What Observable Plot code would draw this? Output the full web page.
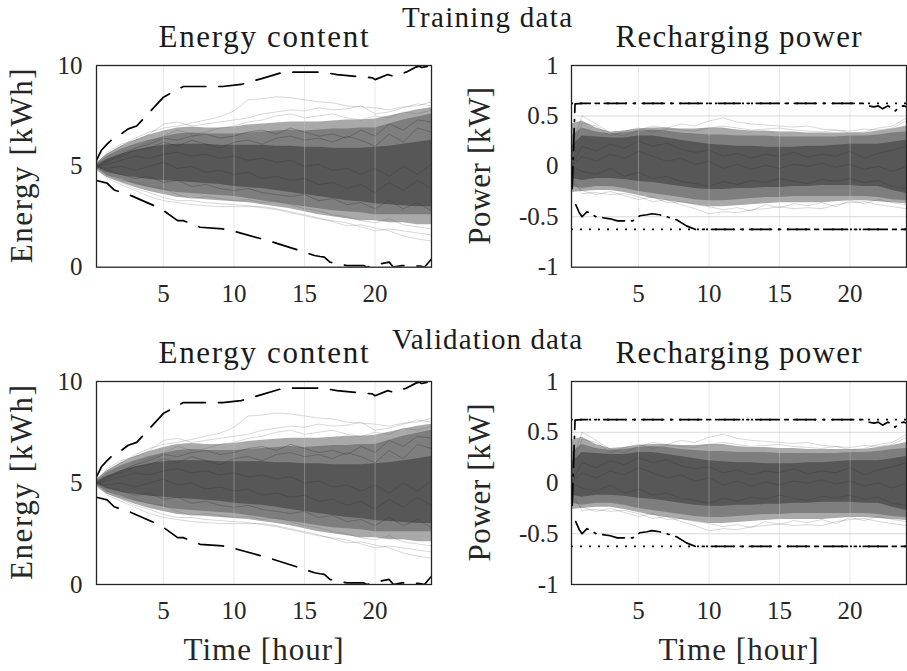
<!DOCTYPE html>
<html><head><meta charset="utf-8">
<script src="https://cdn.jsdelivr.net/npm/d3@7"></script>
<script src="https://cdn.jsdelivr.net/npm/@observablehq/plot@0.6"></script>
<style>
html,body{margin:0;padding:0;background:#fff;}
#root{position:relative;width:907px;height:671px;overflow:hidden;}
</style></head>
<body><div id="root"></div>
<script>
// ---------- data ----------
const hours = [0.25,1,2,3,4,5,6,7,8,9,10,11,12,13,14,15,16,17,18,19,20,21,22,23,24];
const xTicks = [5,10,15,20];
const energyTicks = [0,5,10];
const powerTicks = [-1,-0.5,0,0.5,1];
const powerGrid = [-0.5,0.5];
const powerLimit = [-0.625,0.625];

// Energy content: density bands of the gray trajectories (kWh)
const eCoreHi = [5.05,5.35,5.6,5.8,5.95,6.05,6.1,6.1,6.1,6.05,6.05,6.05,6.05,6.0,6.0,5.95,5.95,5.9,5.9,5.9,5.95,6.0,6.1,6.2,6.3];
const eCoreLo = [4.95,4.7,4.55,4.45,4.35,4.3,4.25,4.2,4.15,4.1,4.0,3.95,3.9,3.8,3.7,3.6,3.5,3.4,3.3,3.25,3.15,3.1,3.05,3.0,3.0];
const eMidHi  = [5.1,5.5,5.85,6.1,6.3,6.45,6.6,6.65,6.6,6.6,6.6,6.65,6.7,6.75,6.8,6.75,6.8,6.85,6.85,6.9,6.9,7.1,7.3,7.45,7.6];
const eMidLo  = [4.9,4.55,4.35,4.1,3.95,3.8,3.7,3.65,3.6,3.55,3.5,3.4,3.3,3.2,3.1,3.0,2.9,2.8,2.75,2.7,2.6,2.6,2.6,2.6,2.6];
const eOutHi  = [5.15,5.6,6.0,6.3,6.55,6.75,6.9,6.95,6.9,6.9,6.95,7.05,7.1,7.15,7.2,7.2,7.2,7.25,7.3,7.3,7.35,7.5,7.65,7.8,7.9];
const eOutLo  = [4.85,4.45,4.2,3.95,3.75,3.6,3.45,3.4,3.35,3.3,3.25,3.2,3.1,3.0,2.9,2.75,2.6,2.5,2.4,2.3,2.3,2.2,2.2,2.1,2.1];
// Energy: individual outlying (light) trajectories
const eLine1 = [5.2,5.6,6.0,6.4,6.7,6.9,7.0,7.15,7.3,7.45,7.75,8.3,8.35,8.45,8.4,8.3,8.2,8.15,8.0,7.95,7.9,7.8,7.95,8.0,8.2];
const eLine2 = [5.1,5.7,6.1,6.3,6.6,7.1,7.2,7.0,7.1,7.2,7.3,7.4,7.6,7.7,7.8,7.75,7.9,7.8,7.85,8.0,7.6,7.7,7.9,8.1,8.0];
const eLine3 = [4.9,4.4,4.1,3.8,3.5,3.3,3.2,3.1,3.05,3.0,3.0,3.0,3.0,2.9,2.75,2.6,2.45,2.25,2.05,2.1,1.95,1.8,1.55,1.4,1.3];
const eLine4 = [4.8,4.5,4.2,3.9,3.7,3.45,3.3,3.3,3.2,3.15,3.1,3.05,2.95,2.85,2.7,2.55,2.4,2.3,2.2,2.0,1.8,1.9,1.8,1.7,1.6];
const eLine5 = [5.0,5.3,5.6,5.9,6.2,6.5,6.8,6.6,6.7,6.9,7.0,7.2,7.3,7.5,7.6,7.4,7.5,7.6,7.4,7.3,7.5,7.4,7.7,7.6,7.8];
const eLine6 = [5.0,4.6,4.3,4.2,4.0,3.9,3.6,3.4,3.5,3.4,3.3,3.35,3.2,3.3,3.1,2.9,2.8,2.6,2.5,2.3,2.2,2.4,2.1,2.0,1.9];
// Energy: a few trajectories inside the dense band
const eTex1 = [5.0,5.3,5.5,5.8,5.9,6.2,6.0,6.3,6.1,5.9,6.2,6.3,6.1,6.4,6.5,6.3,6.4,6.2,6.5,6.3,6.0,6.6,6.2,6.9,6.7];
const eTex2 = [5.0,4.8,4.6,4.4,4.5,4.2,4.3,4.0,4.1,3.9,3.8,3.9,3.7,3.6,3.5,3.6,3.3,3.4,3.1,3.2,2.9,3.3,2.9,3.2,2.8];
const eTex3 = [5.0,5.1,5.3,5.5,5.4,5.6,5.7,5.5,5.6,5.4,5.5,5.3,5.4,5.2,5.3,5.0,5.1,4.8,4.9,4.6,4.9,4.5,5.0,4.6,5.1];
const eTex4 = [5.0,4.9,5.0,4.8,5.0,5.2,4.9,5.0,4.7,4.8,4.6,4.7,4.4,4.5,4.3,4.4,4.1,4.2,3.9,4.1,3.7,4.2,3.8,4.3,3.9];
const eTex5 = [5.0,5.2,5.6,5.9,6.1,6.4,6.3,6.5,6.6,6.4,6.5,6.7,6.8,6.6,6.9,6.7,6.5,6.6,6.4,6.8,6.5,7.1,6.8,7.3,7.2];
// Energy: max / min envelopes (dashed)
const eMaxH = [0.25,0.6,1.0,1.3,2.0,2.5,3.1,5.0,6.4,8.2,9.2,10.5,11.9,13.5,14.5,16.3,17.3,19.8,20.0,20.9,21.3,22.2,22.9,23.1,23.3,24];
const eMaxV = [5.3,5.8,6.1,6.3,6.6,6.86,7.0,8.43,8.96,8.96,8.96,9.06,9.34,9.67,9.67,9.67,9.55,9.39,9.3,9.55,9.47,9.67,9.92,9.97,9.9,10];
const eMinH = [0.25,1.0,1.5,2.7,4.3,5.0,6.0,6.4,7.6,9.2,10,12.4,14.5,15.7,16.1,16.4,16.8,18,19.2,19.4,20.4,21,21.3,21.9,23.2,23.5,24];
const eMinV = [4.3,4.17,3.83,3.55,3.06,2.81,2.31,2.31,1.98,1.90,1.78,1.32,0.86,0.58,0.53,0.5,0.25,0.08,0.08,0.0,0.17,0.25,0.0,0.08,0.05,0.0,0.41];

// Recharging power: density bands (kW)
const pCoreHi = [0.2,0.3,0.29,0.28,0.28,0.3,0.3,0.28,0.26,0.24,0.22,0.21,0.2,0.2,0.19,0.19,0.19,0.2,0.2,0.21,0.22,0.22,0.22,0.24,0.26];
const pCoreLo = [-0.12,-0.14,-0.12,-0.12,-0.13,-0.15,-0.16,-0.18,-0.2,-0.22,-0.23,-0.23,-0.22,-0.22,-0.21,-0.21,-0.2,-0.2,-0.19,-0.19,-0.19,-0.2,-0.2,-0.24,-0.27];
const pMidHi  = [0.3,0.38,0.34,0.32,0.33,0.35,0.36,0.35,0.33,0.32,0.31,0.31,0.3,0.3,0.3,0.29,0.29,0.29,0.29,0.29,0.3,0.3,0.31,0.33,0.34];
const pMidLo  = [-0.2,-0.22,-0.2,-0.2,-0.22,-0.25,-0.27,-0.29,-0.31,-0.33,-0.34,-0.34,-0.33,-0.32,-0.31,-0.31,-0.3,-0.3,-0.3,-0.3,-0.3,-0.3,-0.31,-0.33,-0.34];
const pOutHi  = [0.42,0.45,0.38,0.34,0.35,0.37,0.38,0.38,0.37,0.37,0.38,0.38,0.36,0.35,0.35,0.34,0.34,0.33,0.33,0.33,0.33,0.33,0.35,0.37,0.4];
const pOutLo  = [-0.26,-0.25,-0.24,-0.24,-0.26,-0.29,-0.32,-0.34,-0.36,-0.38,-0.4,-0.4,-0.39,-0.38,-0.37,-0.36,-0.36,-0.36,-0.36,-0.35,-0.34,-0.34,-0.35,-0.36,-0.37];
const pLine1 = [0.2,0.5,0.42,0.33,0.3,0.36,0.4,0.38,0.42,0.4,0.45,0.48,0.44,0.42,0.41,0.4,0.39,0.4,0.37,0.36,0.35,0.37,0.36,0.38,0.45];
const pLine2 = [0.15,0.43,0.4,0.3,0.35,0.38,0.34,0.37,0.36,0.35,0.38,0.4,0.38,0.36,0.37,0.38,0.36,0.35,0.34,0.36,0.33,0.34,0.38,0.4,0.48];
const pLine3 = [-0.1,-0.27,-0.26,-0.28,-0.27,-0.3,-0.35,-0.33,-0.38,-0.42,-0.47,-0.45,-0.46,-0.43,-0.42,-0.4,-0.42,-0.41,-0.42,-0.38,-0.36,-0.35,-0.38,-0.4,-0.42];
const pLine4 = [-0.15,-0.24,-0.28,-0.25,-0.29,-0.33,-0.3,-0.36,-0.35,-0.38,-0.4,-0.43,-0.41,-0.44,-0.38,-0.41,-0.37,-0.39,-0.36,-0.4,-0.34,-0.37,-0.33,-0.36,-0.38];
const pTex1 = [0,0.2,0.15,0.22,0.18,0.25,0.2,0.23,0.17,0.14,0.16,0.1,0.13,0.08,0.12,0.1,0.14,0.09,0.12,0.1,0.15,0.08,0.13,0.16,0.2];
const pTex2 = [0,-0.05,-0.08,-0.02,-0.1,-0.06,-0.12,-0.1,-0.15,-0.17,-0.2,-0.15,-0.18,-0.14,-0.16,-0.12,-0.15,-0.17,-0.13,-0.15,-0.12,-0.16,-0.14,-0.2,-0.22];
const pTex3 = [0,0.1,0.05,0.12,0.08,0.15,0.1,0.05,0.08,0.02,0.05,-0.02,0.02,-0.03,0.01,-0.02,0.02,0.0,0.03,-0.01,0.02,-0.03,0.0,-0.05,0.0];
// Power: max / min envelopes (dash-dot)
const pMaxH = [0.3,0.5,1,5,10,15,20,20.9,21.3,21.7,22.0,22.3,22.7,23.2,23.5,23.8,24];
const pMaxV = [-0.22,0.62,0.625,0.625,0.625,0.625,0.625,0.625,0.6,0.59,0.6,0.57,0.6,0.55,0.59,0.6,0.59];
const pMinH = [0.55,0.8,1.0,1.35,2.0,3.0,3.5,4.6,5.1,5.6,5.95,6.5,7.0,7.7,8.4,9.0,10,24];
const pMinV = [-0.38,-0.46,-0.5,-0.45,-0.5,-0.52,-0.54,-0.54,-0.49,-0.48,-0.47,-0.48,-0.5,-0.53,-0.59,-0.624,-0.625,-0.625];

// ---------- font choice (serif if one is installed) ----------
const ctx = document.createElement("canvas").getContext("2d");
function hasFont(name) {
  const s = "Energy content 0123456789 mmmWWWiii";
  return ["monospace", "sans-serif"].some(base => {
    ctx.font = `72px ${base}`; const w0 = ctx.measureText(s).width;
    ctx.font = `72px "${name}", ${base}`; const w1 = ctx.measureText(s).width;
    return Math.abs(w0 - w1) > 0.5;
  });
}
const candidates = ["Liberation Serif", "DejaVu Serif", "Noto Serif", "Tinos", "Times New Roman", "FreeSerif", "Nimbus Roman", "Noto Serif CJK SC"];
const FONT = candidates.find(hasFont) || "Liberation Sans";
const FAM = `"${FONT}", serif`;
function widthAt(s, size) { ctx.font = `${size}px ${FAM}`; return ctx.measureText(s).width; }
// tick labels: "10" is about 25 px wide in the picture
const tickSize = Math.max(20, Math.min(28, 27 * 25 / widthAt("10", 27)));

// ---------- helpers ----------
const bandRows = (lo, hi) => hours.map((h, i) => ({h, lo: lo[i], hi: hi[i]}));
const lineRows = (arrs) => arrs.flatMap((a, k) => a.map((v, i) => ({h: hours[i], v, k})));
const pairRows = (H, V) => H.map((h, i) => ({h, v: V[i]}));

const cfg = {
  energy: {
    domain: [0, 10], ticks: energyTicks, yPad: 14,
    bands: [[eOutLo, eOutHi, "#a9a9a9"], [eMidLo, eMidHi, "#7e7e7e"], [eCoreLo, eCoreHi, "#575757"]],
    light: [eLine1, eLine2, eLine3, eLine4, eLine5, eLine6],
    tex: [eTex1, eTex2, eTex3, eTex4, eTex5],
    envMax: [eMaxH, eMaxV], envMin: [eMinH, eMinV], dash: "25,13", limit: false, ygrid: []
  },
  power: {
    domain: [-1, 1], ticks: powerTicks, yPad: 13,
    bands: [[pOutLo, pOutHi, "#a9a9a9"], [pMidLo, pMidHi, "#7e7e7e"], [pCoreLo, pCoreHi, "#575757"]],
    light: [pLine1, pLine2, pLine3, pLine4],
    tex: [pTex1, pTex2, pTex3],
    envMax: [pMaxH, pMaxV], envMin: [pMinH, pMinV], dash: "22,7,2,7", limit: true, ygrid: powerGrid
  }
};

function panel(kind, box) {
  const c = cfg[kind];
  const marks = [];
  if (c.ygrid.length) marks.push(Plot.gridY(c.ygrid, {stroke: "#c8c8c8", strokeOpacity: 0.7, strokeWidth: 1}));
  for (const [lo, hi, fill] of c.bands)
    marks.push(Plot.areaY(bandRows(lo, hi), {x: "h", y1: "lo", y2: "hi", fill, clip: true}));
  marks.push(Plot.line(lineRows(c.light), {x: "h", y: "v", z: "k", stroke: "#4d4d4d", strokeOpacity: 0.22, strokeWidth: 1, clip: true}));
  marks.push(Plot.line(lineRows(c.tex), {x: "h", y: "v", z: "k", stroke: "#3a3a3a", strokeOpacity: 0.35, strokeWidth: 1, clip: true}));
  marks.push(Plot.gridX(xTicks, {stroke: "#c8c8c8", strokeOpacity: 0.4, strokeWidth: 1}));
  if (c.limit) marks.push(Plot.ruleY(powerLimit, {x1: hours[0], x2: hours[hours.length - 1], stroke: "#000", strokeWidth: 1.7, strokeDasharray: "2,7"}));
  marks.push(Plot.line(pairRows(...c.envMax), {x: "h", y: "v", stroke: "#000", strokeWidth: 1.7, strokeDasharray: c.dash, clip: true}));
  marks.push(Plot.line(pairRows(...c.envMin), {x: "h", y: "v", stroke: "#000", strokeWidth: 1.7, strokeDasharray: c.dash, clip: true}));
  marks.push(Plot.axisX(xTicks, {tickSize: 0, tickPadding: 17, label: null, tickFormat: d => String(d), fill: "#262626"}));
  marks.push(Plot.axisY(c.ticks, {tickSize: 0, tickPadding: c.yPad, label: null, tickFormat: d => String(d), fill: "#262626"}));
  marks.push(Plot.frame({stroke: "#262626", strokeWidth: 1.3}));
  const svg = Plot.plot({
    width: box.w, height: box.h,
    marginLeft: box.ml, marginRight: box.mr, marginTop: box.mt, marginBottom: box.mb,
    style: {fontFamily: FAM, fontSize: tickSize + "px", background: "transparent", overflow: "visible"},
    x: {domain: [hours[0], hours[hours.length - 1]]},
    y: {domain: c.domain},
    marks
  });
  svg.style.position = "absolute";
  svg.style.left = box.left + "px";
  svg.style.top = box.top + "px";
  return svg;
}

const root = document.getElementById("root");
root.appendChild(panel("energy", {left: 0,   top: 0,   w: 440, h: 310, ml: 96,  mr: 9, mt: 65, mb: 43.3}));
root.appendChild(panel("power",  {left: 460, top: 0,   w: 447, h: 310, ml: 111, mr: 1, mt: 65, mb: 43.3}));
root.appendChild(panel("energy", {left: 0,   top: 320, w: 440, h: 310, ml: 96,  mr: 9, mt: 61, mb: 46}));
root.appendChild(panel("power",  {left: 460, top: 320, w: 447, h: 310, ml: 111, mr: 1, mt: 61, mb: 46}));

// ---------- titles and axis labels ----------
const ns = "http://www.w3.org/2000/svg";
const ov = document.createElementNS(ns, "svg");
ov.setAttribute("width", 907); ov.setAttribute("height", 671);
ov.style.position = "absolute"; ov.style.left = "0px"; ov.style.top = "0px";
ov.style.fontFamily = FAM;
function txt(s, x, y, size, target, rot, fill) {
  const fs = Math.min(size, size * target / widthAt(s, size));
  const t = document.createElementNS(ns, "text");
  t.textContent = s;
  t.setAttribute("text-anchor", "middle");
  t.setAttribute("font-size", fs);
  t.setAttribute("fill", fill || "#1a1a1a");
  t.setAttribute("textLength", target);
  t.setAttribute("lengthAdjust", "spacing");
  if (rot) t.setAttribute("transform", `translate(${x},${y}) rotate(-90)`);
  else { t.setAttribute("x", x); t.setAttribute("y", y); }
  ov.appendChild(t);
}
const rows = [
  {title: "Training data", tW: 170, tY: 26.5, pY: 47, mid: 165.8},
  {title: "Validation data", tW: 190, tY: 349, pY: 362.7, mid: 482.5}
];
for (const r of rows) {
  txt(r.title, 487, r.tY, 29, r.tW);
  txt("Energy content", 263.5, r.pY, 31, 210);
  txt("Recharging power", 738.5, r.pY, 31, 246);
  txt("Energy [kWh]", 32, r.mid, 31, 195, true, "#262626");
  txt("Power [kW]", 490, r.mid, 31, 158, true, "#262626");
}
txt("Time [hour]", 263.5, 660, 31, 160, false, "#262626");
txt("Time [hour]", 738.5, 660, 31, 160, false, "#262626");
root.appendChild(ov);
</script>
</body></html>
